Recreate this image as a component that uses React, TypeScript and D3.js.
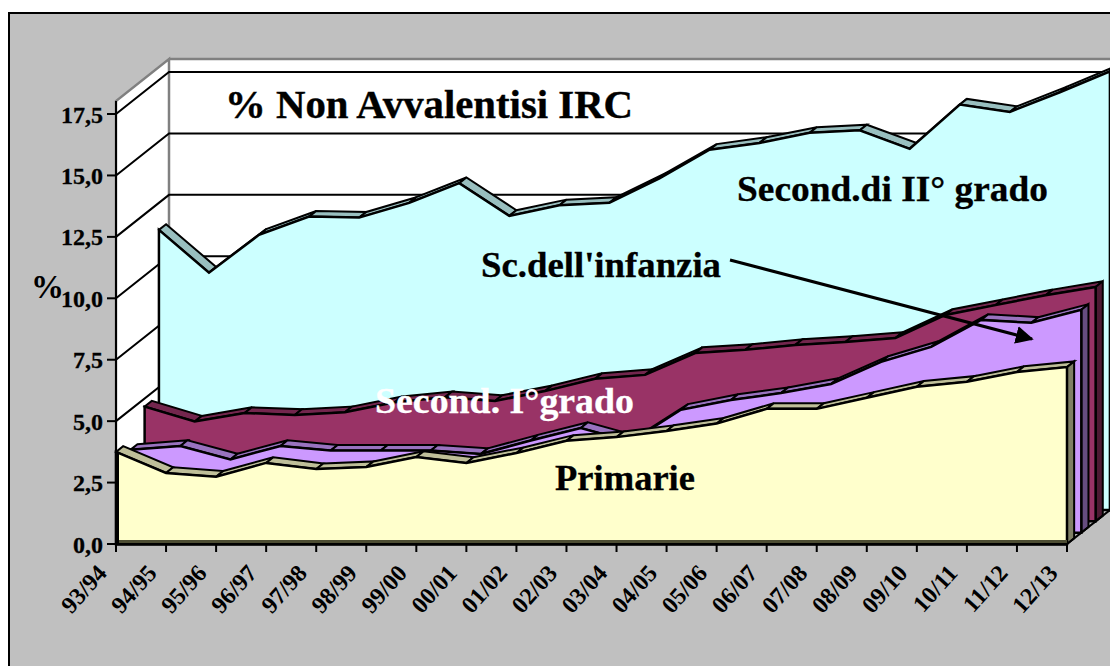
import React from "react";
import * as d3 from "d3";

const years = ["93/94", "94/95", "95/96", "96/97", "97/98", "98/99", "99/00", "00/01", "01/02", "02/03", "03/04", "04/05", "05/06", "06/07", "07/08", "08/09", "09/10", "10/11", "11/12", "12/13"];
const yTicks = [0, 2.5, 5, 7.5, 10, 12.5, 15, 17.5];

const primarie = [3.75, 2.89, 2.74, 3.3, 3.05, 3.13, 3.54, 3.3, 3.7, 4.2, 4.35, 4.6, 4.9, 5.5, 5.5, 5.95, 6.4, 6.6, 7.0, 7.2];
const secondoPrimo = [3.37, 3.53, 2.98, 3.53, 3.34, 3.34, 3.34, 3.2, 3.75, 4.26, 3.7, 5.0, 5.4, 5.68, 6.05, 6.95, 7.56, 8.66, 8.54, 9.07];
const infanzia = [4.67, 4.06, 4.41, 4.33, 4.44, 4.85, 5.05, 4.9, 5.3, 5.8, 5.96, 6.85, 6.98, 7.18, 7.3, 7.46, 8.4, 8.8, 9.2, 9.54];
const secondoGrado = [11.4, 9.66, 11.2, 11.94, 11.9, 12.5, 13.3, 11.97, 12.4, 12.5, 13.5, 14.66, 14.94, 15.35, 15.45, 14.7, 16.5, 16.2, 17.0, 17.85];

// back to front, as the 3D chart paints them
const layers = [
  { values: secondoGrado, slot: 3, front: "#ccffff", top: "#99bfbf", side: "#667f7f" },
  { values: infanzia, slot: 2, front: "#993366", top: "#73264d", side: "#4d1a33" },
  { values: secondoPrimo, slot: 1, front: "#cc99ff", top: "#9973bf", side: "#664d80" },
  { values: primarie, slot: 0, front: "#ffffcc", top: "#bfbf99", side: "#808066" },
];

const x = d3.scalePoint<string>().domain(years).range([116, 1067]);
const y = d3.scaleLinear().domain([0, 18.03]).range([544, 101]);
const depthX = d3.scaleLinear().domain([0, 1]).range([0, 53]);
const depthY = d3.scaleLinear().domain([0, 1]).range([0, -42]);

const SLOT = 0.27;
const RIBBON = 0.135;
const serif = "'Liberation Serif', serif";

const px = (i: number, d: number) => (x(years[i]) as number) + depthX(d);
const py = (v: number, d: number) => y(v) + depthY(d);
const poly = d3.line<[number, number]>();

const Layer = ({ l }: { l: (typeof layers)[number] }) => {
  const d0 = l.slot * SLOT;
  const d1 = d0 + RIBBON;
  const last = years.length - 1;
  const front = d3
    .area<number>()
    .x((_, i) => px(i, d0))
    .y0(py(0, d0))
    .y1((v) => py(v, d0));
  const side: [number, number][] = [
    [px(last, d0), py(l.values[last], d0)],
    [px(last, d1), py(l.values[last], d1)],
    [px(last, d1), py(0, d1)],
    [px(last, d0), py(0, d0)],
  ];
  return (
    <g stroke="#000" strokeLinejoin="miter">
      {l.values.slice(0, -1).map((v, i) => {
        const next = l.values[i + 1];
        const quad: [number, number][] = [
          [px(i, d0), py(v, d0)],
          [px(i + 1, d0), py(next, d0)],
          [px(i + 1, d1), py(next, d1)],
          [px(i, d1), py(v, d1)],
        ];
        return <path key={i} d={poly(quad) + "Z"} fill={l.top} strokeWidth={2} />;
      })}
      <path d={poly(side) + "Z"} fill={l.side} strokeWidth={2} />
      <path d={front(l.values) as string} fill={l.front} strokeWidth={2.5} />
    </g>
  );
};

const App = () => {
  const x0 = x.range()[0];
  const x1 = x.range()[1];
  const yTop = y.range()[1];
  const yBase = y(0);
  const backX = x0 + depthX(1);
  const backTop = yTop + depthY(1);
  const backBase = yBase + depthY(1);

  return (
    <svg width={1110} height={666} style={{ position: "absolute", left: 0, top: 0 }} fontFamily={serif} fontWeight="bold">
      <defs>
        <marker id="head" viewBox="0 0 10 10" refX="9" refY="5" markerWidth="6" markerHeight="6" orient="auto">
          <path d="M0,0L10,5L0,10Z" fill="#000" />
        </marker>
      </defs>
      <rect width={1110} height={666} fill="#fff" />
      <rect x={9} y={13} width={1120} height={680} fill="#c0c0c0" stroke="#000" strokeWidth={2} />

      {/* floor */}
      <path d={poly([[x0, yBase], [x1, yBase], [x1 + depthX(1), backBase], [backX, backBase]]) + "Z"} fill="#c0c0c0" stroke="#808080" strokeWidth={2} />
      {/* walls */}
      <path d={poly([[backX, backTop], [1120, backTop], [1120, backBase], [backX, backBase]]) as string} fill="#fff" stroke="#808080" strokeWidth={2.5} />
      <path d={poly([[x0, yBase], [x0, yTop], [backX, backTop], [backX, backBase]]) + "Z"} fill="#fff" stroke="#808080" strokeWidth={2.5} />

      {yTicks.slice(1).map((t) => (
        <path key={t} d={poly([[x0, y(t)], [backX, y(t) + depthY(1)], [1120, y(t) + depthY(1)]]) as string} fill="none" stroke="#000" strokeWidth={2} />
      ))}

      {layers.map((l) => (
        <Layer key={l.slot} l={l} />
      ))}

      {/* axes */}
      <line x1={x0} x2={x1} y1={yBase - 2.5} y2={yBase - 2.5} stroke="#4d4d33" strokeWidth={3} />
      <line x1={x0} x2={x1} y1={yBase + 0.5} y2={yBase + 0.5} stroke="#000" strokeWidth={2.5} />
      <line x1={x1} x2={x1 + depthX(1)} y1={yBase} y2={backBase} stroke="#000" strokeWidth={2} />
      <line x1={x0} x2={x0} y1={yTop} y2={yBase} stroke="#000" strokeWidth={2} />
      <line x1={x0 + 1.5} x2={x0 + 1.5} y1={y(primarie[0])} y2={yBase} stroke="#000" strokeWidth={3} />
      {yTicks.map((t) => (
        <g key={t}>
          <line x1={x0 - 9} x2={x0} y1={y(t)} y2={y(t)} stroke="#000" strokeWidth={2} />
          <text x={x0 - 13} y={y(t) + 8.5} textAnchor="end" fontSize={24} fill="#000" stroke="#000" strokeWidth={0.3}>
            {d3.format(".1f")(t).replace(".", ",")}
          </text>
        </g>
      ))}
      {years.map((c) => {
        const tx = x(c) as number;
        return (
          <g key={c}>
            <line x1={tx} x2={tx} y1={yBase} y2={yBase + 8} stroke="#000" strokeWidth={2} />
            <text transform={`translate(${tx - 8},${yBase + 30}) rotate(-48)`} textAnchor="end" fontSize={24} fill="#000">
              {c}
            </text>
          </g>
        );
      })}
      <text x={31} y={298} fontSize={33} fill="#000">%</text>

      {/* labels */}
      <text x={225} y={118} fontSize={41} fill="#000" stroke="#000" strokeWidth={0.4} textLength={408} lengthAdjust="spacingAndGlyphs">% Non Avvalentisi IRC</text>
      <text x={737} y={201} fontSize={36} fill="#000" stroke="#000" strokeWidth={0.3} textLength={311} lengthAdjust="spacingAndGlyphs">Second.di II° grado</text>
      <text x={481} y={277} fontSize={36} fill="#000" stroke="#000" strokeWidth={0.3} textLength={240} lengthAdjust="spacingAndGlyphs">Sc.dell'infanzia</text>
      <text x={375} y={413} fontSize={36} fill="#fff" stroke="#fff" strokeWidth={0.3} textLength={259} lengthAdjust="spacingAndGlyphs">Second. I°grado</text>
      <text x={555} y={490} fontSize={36} fill="#000" stroke="#000" strokeWidth={0.3} textLength={140} lengthAdjust="spacingAndGlyphs">Primarie</text>
      <line x1={730} y1={260} x2={1032} y2={339} stroke="#000" strokeWidth={3} markerEnd="url(#head)" />
    </svg>
  );
};

export default App;
